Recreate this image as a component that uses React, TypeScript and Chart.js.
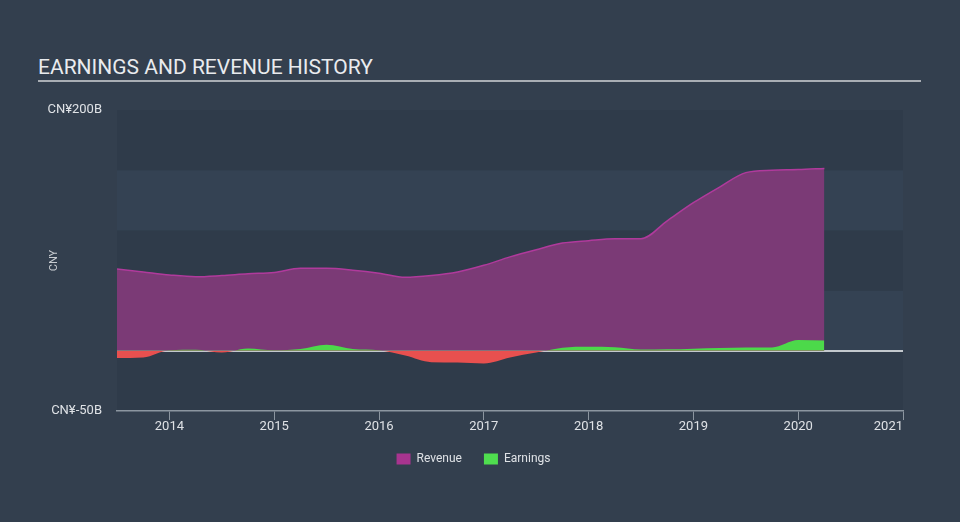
import { useEffect, useRef } from "react";
import { Chart, registerables } from "chart.js";

Chart.register(...registerables);

// ---- data ----
const periods = [
  2013.5, 2013.75, 2014.0, 2014.25, 2014.5, 2014.75, 2015.0, 2015.25, 2015.5, 2015.75,
  2016.0, 2016.25, 2016.5, 2016.75, 2017.0, 2017.25, 2017.5, 2017.75, 2018.0, 2018.25,
  2018.5, 2018.75, 2019.0, 2019.25, 2019.5, 2019.75, 2020.0, 2020.25,
];
const revenue = [
  68, 65.5, 63, 61.5, 62.5, 64, 65, 68.5, 68.5, 67,
  64.5, 61, 62.5, 65.5, 71, 78, 84, 89.5, 91.5, 93,
  93, 108, 123, 136, 148, 150, 150.5, 151.5,
];
const earnings = [
  -6, -5.5, 0.5, 0.8, -1.5, 2, 0.5, 1.5, 5, 1.5,
  0.5, -4, -9.5, -9.8, -10.5, -5.5, -1.5, 2.5, 3.3, 3,
  1, 1.2, 1.8, 2.3, 2.7, 2.8, 9, 8.5,
];
const seriesNames = ["Revenue", "Earnings"];
const yearTicks = [2014, 2015, 2016, 2017, 2018, 2019, 2020, 2021];
const xRange = [2013.5, 2021];
const yRange = [-50, 200];
const yStep = 50;
const yLabeled = [200, -50];
const currencyPrefix = "CN¥";
const unitSuffix = "B";
const axisTitle = "CNY";
const chartTitle = "EARNINGS AND REVENUE HISTORY";

// ---- styles ----
const BG = "#333f4e";
const BAND_DARK = "#2f3b4a";
const BAND_LIGHT = "#344253";
const REV_FILL = "#7b3a76";
const REV_LINE = "#b03a9c";
const GREEN = "#4cd94a";
const RED = "#e8504f";
const ZERO = "#c3c8cd";
const AXIS = "#8c96a0";
const TEXT = "#dfe2e6";
const legendColors = ["#a8348f", "#4fde4f"];
const FONT = "Roboto";

const bandPlugin = {
  id: "bands",
  beforeDraw(chart: any) {
    const { ctx, chartArea, scales } = chart;
    const y = scales.y;
    const vals = y.ticks.map((t: any) => t.value).sort((a: number, b: number) => a - b);
    ctx.save();
    for (let i = 0; i < vals.length - 1; i++) {
      const top = y.getPixelForValue(vals[i + 1]);
      const bot = y.getPixelForValue(vals[i]);
      ctx.fillStyle = i % 2 === 0 ? BAND_DARK : BAND_LIGHT;
      ctx.fillRect(chartArea.left, top, chartArea.right - chartArea.left, bot - top);
    }
    ctx.restore();
  },
};

export default function App() {
  const ref = useRef<HTMLCanvasElement | null>(null);

  useEffect(() => {
    if (!ref.current) return;
    const chart = new Chart(ref.current, {
      type: "line",
      data: {
        datasets: [
          {
            label: seriesNames[0],
            data: periods.map((p, i) => ({ x: p, y: revenue[i] })),
            borderColor: REV_LINE,
            backgroundColor: REV_FILL,
            borderWidth: 1.5,
            pointRadius: 0,
            cubicInterpolationMode: "monotone",
            fill: "origin",
            order: 2,
          },
          {
            label: seriesNames[1],
            data: periods.map((p, i) => ({ x: p, y: earnings[i] })),
            borderColor: "transparent",
            backgroundColor: GREEN,
            borderWidth: 0,
            pointRadius: 0,
            cubicInterpolationMode: "monotone",
            fill: { target: "origin", above: GREEN, below: RED },
            order: 1,
          },
        ],
      } as any,
      options: {
        animation: false,
        responsive: false,
        devicePixelRatio: 1,
        layout: { padding: { left: 44, right: 57, top: 110, bottom: 47 } },
        plugins: {
          tooltip: { enabled: false },
          legend: {
            position: "bottom",
            labels: {
              boxWidth: 14,
              boxHeight: 11,
              padding: 22,
              color: TEXT,
              font: { family: FONT, size: 12 },
              generateLabels: (c: any) =>
                c.data.datasets.map((ds: any, i: number) => ({
                  text: ds.label,
                  fillStyle: legendColors[i],
                  strokeStyle: legendColors[i],
                  lineWidth: 0,
                  hidden: false,
                  datasetIndex: i,
                  fontColor: TEXT,
                })),
            },
          },
        },
        scales: {
          x: {
            type: "linear",
            min: xRange[0],
            max: xRange[1],
            afterBuildTicks: (scale: any) => {
              scale.ticks = [{ value: xRange[0] }, ...yearTicks.map((v) => ({ value: v }))];
            },
            afterFit: (scale: any) => {
              scale.height = 20;
            },
            ticks: {
              align: "inner",
              padding: 0,
              color: TEXT,
              font: { family: FONT, size: 13, lineHeight: 1 },
              maxRotation: 0,
              autoSkip: false,
              callback: (v: any) => (yearTicks.includes(v) ? String(v) : ""),
            },
            grid: {
              drawOnChartArea: false,
              drawTicks: true,
              tickLength: 9,
              color: (ctx: any) =>
                ctx.tick && yearTicks.includes(ctx.tick.value) ? AXIS : "transparent",
            },
            border: { display: true, color: AXIS, width: 1.5 },
          },
          y: {
            min: yRange[0],
            max: yRange[1],
            afterFit: (scale: any) => {
              scale.width = 73;
            },
            ticks: {
              stepSize: yStep,
              padding: 15,
              color: TEXT,
              font: { family: FONT, size: 13 },
              callback: (v: any) =>
                yLabeled.includes(v) ? `${currencyPrefix}${v}${unitSuffix}` : "",
            },
            grid: {
              drawTicks: false,
              lineWidth: 2,
              color: (ctx: any) => (ctx.tick && ctx.tick.value === 0 ? ZERO : "transparent"),
            },
            border: { display: false },
            title: {
              display: true,
              text: axisTitle,
              color: "#c8ccd1",
              font: { family: FONT, size: 11 },
              padding: { top: 4, bottom: 0 },
            },
          },
        },
      } as any,
      plugins: [bandPlugin],
    });
    return () => chart.destroy();
  }, []);

  return (
    <div
      style={{
        position: "fixed",
        left: 0,
        top: 0,
        width: 960,
        height: 522,
        background: BG,
        overflow: "hidden",
      }}
    >
      <div
        style={{
          position: "absolute",
          left: 38,
          top: 57,
          fontFamily: FONT,
          fontSize: 21,
          lineHeight: "21px",
          color: "#e9ebee",
          whiteSpace: "nowrap",
        }}
      >
        {chartTitle}
      </div>
      <div
        style={{
          position: "absolute",
          left: 38,
          top: 80,
          width: 883,
          height: 2,
          background: "#a9aeb4",
        }}
      />
      <canvas
        ref={ref}
        width={960}
        height={522}
        style={{ position: "absolute", left: 0, top: 0, width: 960, height: 522 }}
      />
    </div>
  );
}
